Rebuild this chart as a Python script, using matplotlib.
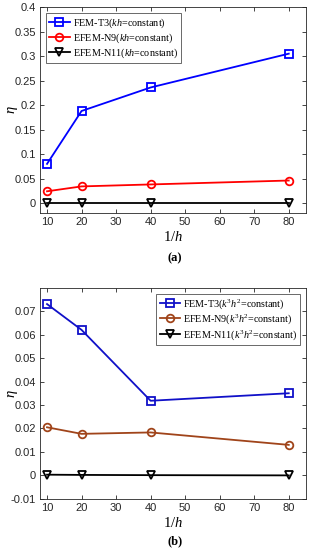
import numpy as np
import matplotlib
matplotlib.use("Agg")
import matplotlib.pyplot as plt

plt.rcParams["mathtext.fontset"] = "custom"
plt.rcParams["mathtext.rm"] = "Liberation Serif"
plt.rcParams["mathtext.it"] = "Liberation Serif:italic"
plt.rcParams["font.family"] = "Liberation Sans"

# data
inv_h = [10, 20, 40, 80]
x_ticks = [10, 20, 30, 40, 50, 60, 70, 80]

# (a) kh = constant
fem_t3_a = [0.080, 0.188, 0.236, 0.305]
efem_n9_a = [0.024, 0.034, 0.038, 0.046]
efem_n11_a = [0.0, 0.0, 0.0, 0.0]
yticks_a = [0, 0.05, 0.1, 0.15, 0.2, 0.25, 0.3, 0.35, 0.4]

# (b) k^3 h^2 = constant
fem_t3_b = [0.073, 0.062, 0.0318, 0.035]
efem_n9_b = [0.0205, 0.0177, 0.0183, 0.0130]
efem_n11_b = [0.0003, 0.0002, 0.0001, 0.0]
yticks_b = [-0.01, 0, 0.01, 0.02, 0.03, 0.04, 0.05, 0.06, 0.07]

fig = plt.figure(figsize=(3.11, 5.5), dpi=100)
ax_a = fig.add_axes([0.129, 0.613, 0.855, 0.374])
ax_b = fig.add_axes([0.129, 0.093, 0.855, 0.384])

serif = "Liberation Serif"
mk = dict(markersize=5.5, markerfacecolor="none", markeredgewidth=1.3, linewidth=1.3)


def style_axes(ax, yticks, ylim):
    ax.set_xlim(8, 85)
    ax.set_ylim(*ylim)
    ax.set_xticks(x_ticks)
    ax.set_yticks(yticks)
    ax.set_yticklabels([f"{v:g}" for v in yticks])
    ax.tick_params(direction="in", top=True, right=True, length=3,
                   labelsize=8, colors="#262626", width=0.6, pad=3)
    for s in ax.spines.values():
        s.set_color("#262626")
        s.set_linewidth(0.6)
    ax.set_ylabel(r"$\eta$", fontsize=10.5)
    ax.yaxis.set_label_coords(-0.075, 0.5)
    ax.set_xlabel(r"$1/h$", fontsize=10.5, labelpad=2)


def add_legend(ax, loc):
    leg = ax.legend(loc=loc, prop={"family": serif, "size": 7.3},
                    frameon=True, fancybox=False, edgecolor="#262626",
                    handlelength=2.0, handletextpad=0.3, borderpad=0.3,
                    labelspacing=0.15, borderaxespad=0.6)
    leg.get_frame().set_linewidth(0.6)


# panel (a)
ax_a.plot(inv_h, fem_t3_a, "-s", color="#0000ff", label=r"FEM-T3($kh$=constant)", **mk)
ax_a.plot(inv_h, efem_n9_a, "-o", color="#ff0000", label=r"EFEM-N9($kh$=constant)", **mk)
ax_a.plot(inv_h, efem_n11_a, "-v", color="#000000", label=r"EFEM-N11($kh$=constant)", **mk)
style_axes(ax_a, yticks_a, (-0.02, 0.4))
add_legend(ax_a, "upper left")
fig.text(0.563, 0.531, "(a)", ha="center", va="center", fontsize=9,
         fontweight="bold", family=serif)

# panel (b)
ax_b.plot(inv_h, fem_t3_b, "-s", color="#1010c8", label=r"FEM-T3($k^3h^2$=constant)", **mk)
ax_b.plot(inv_h, efem_n9_b, "-o", color="#a0441a", label=r"EFEM-N9($k^3h^2$=constant)", **mk)
ax_b.plot(inv_h, efem_n11_b, "-v", color="#000000", label=r"EFEM-N11($k^3h^2$=constant)", **mk)
style_axes(ax_b, yticks_b, (-0.01, 0.08))
add_legend(ax_b, "upper right")
fig.text(0.563, 0.015, "(b)", ha="center", va="center", fontsize=9,
         fontweight="bold", family=serif)

fig.savefig("out.png", dpi=100)
